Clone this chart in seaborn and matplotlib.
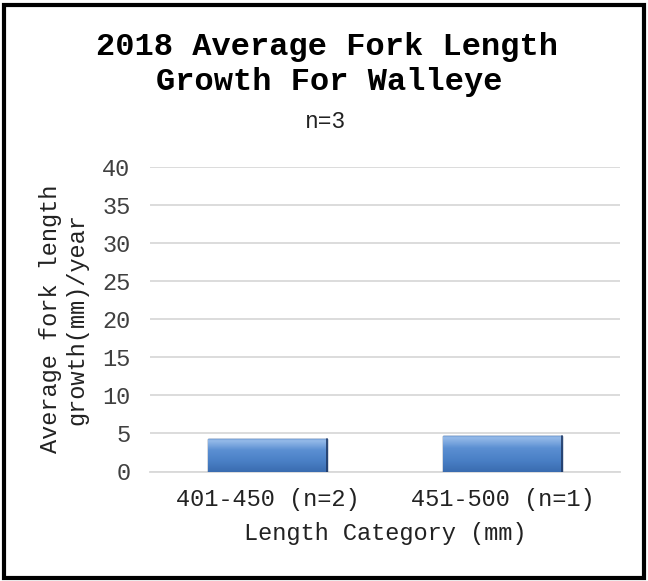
import matplotlib
matplotlib.use("Agg")
import matplotlib.pyplot as plt
import seaborn as sns
import numpy as np
import pandas as pd
from matplotlib.patches import Rectangle
from matplotlib.colors import LinearSegmentedColormap

categories = ["401-450 (n=2)", "451-500 (n=1)"]
growth = [4.23, 4.66]
y_ticks = [0, 5, 10, 15, 20, 25, 30, 35, 40]

sns.set_theme(style="white")
plt.rcParams['font.family'] = ['Liberation Mono', 'DejaVu Sans']

fig = plt.figure(figsize=(6.48, 5.81), dpi=100)
ax = fig.add_axes([150/648, 1-471.5/581, 470/648, (471.5-167)/581])

df = pd.DataFrame({"cat": categories, "val": growth})
sns.barplot(data=df, x="cat", y="val", ax=ax, color="#4F81BD", width=0.51,
            saturation=1, edgecolor="#1F3864", linewidth=1.0, zorder=3)

# gradient fill for bars
cmap = LinearSegmentedColormap.from_list("bev", ["#3A6CB0", "#4A80C6", "#5B8FD2", "#9DC0EC"])
grad = np.linspace(0, 1, 64).reshape(-1, 1)
for p in ax.patches:
    x0, y0 = p.get_x(), p.get_y()
    w, h = p.get_width(), p.get_height()
    im = ax.imshow(grad, cmap=cmap, aspect="auto", origin="lower",
                   extent=[x0, x0 + w, y0, y0 + h], zorder=3.5)
    im.set_clip_path(p)
    ax.plot([x0, x0 + w], [y0 + h, y0 + h], color="#7FA8DC", lw=1.0, zorder=4)
    ax.plot([x0 + w, x0 + w], [y0, y0 + h], color="#1F3864", lw=1.2, zorder=4)

ax.set_xlim(-0.5, 1.5)
ax.set_ylim(0, 40)
ax.set_yticks(y_ticks)
ax.set_yticklabels([str(t) for t in y_ticks], fontsize=17, color="#404040")
ax.tick_params(axis="x", labelsize=17, colors="#404040", pad=12, length=0)
ax.tick_params(axis="y", pad=14, length=0)
for lab in ax.get_xticklabels():
    lab.set_color("#222222")
ax.yaxis.grid(True, color="#D9D9D9", linewidth=1.3, zorder=0)
ax.xaxis.grid(False)
for s in ["top", "right", "left"]:
    ax.spines[s].set_visible(False)
ax.spines["bottom"].set_color("#D9D9D9")
ax.spines["bottom"].set_linewidth(1.3)
ax.set_axisbelow(True)

ax.set_xlabel("Length Category (mm)", fontsize=17, color="#222222", labelpad=8)
ax.set_ylabel("Average fork length\ngrowth(mm)/year", fontsize=17, color="#222222",
              labelpad=10, linespacing=1.2)

fig.text(327/648, 1-54.5/581, "2018 Average Fork Length", fontsize=23, fontweight="bold",
         ha="center", va="baseline", color="black")
fig.text(329/648, 1-90/581, "Growth For Walleye", fontsize=23, fontweight="bold",
         ha="center", va="baseline", color="black")
fig.text(326/648, 1-128/581, "n=3", fontsize=16.5, ha="center", va="baseline", color="#222222")

# outer frame
fig.add_artist(Rectangle((4/648, 3/581), 640/648, 573/581, transform=fig.transFigure,
                         fill=False, edgecolor="black", linewidth=3))

fig.savefig("out.png", dpi=100)
